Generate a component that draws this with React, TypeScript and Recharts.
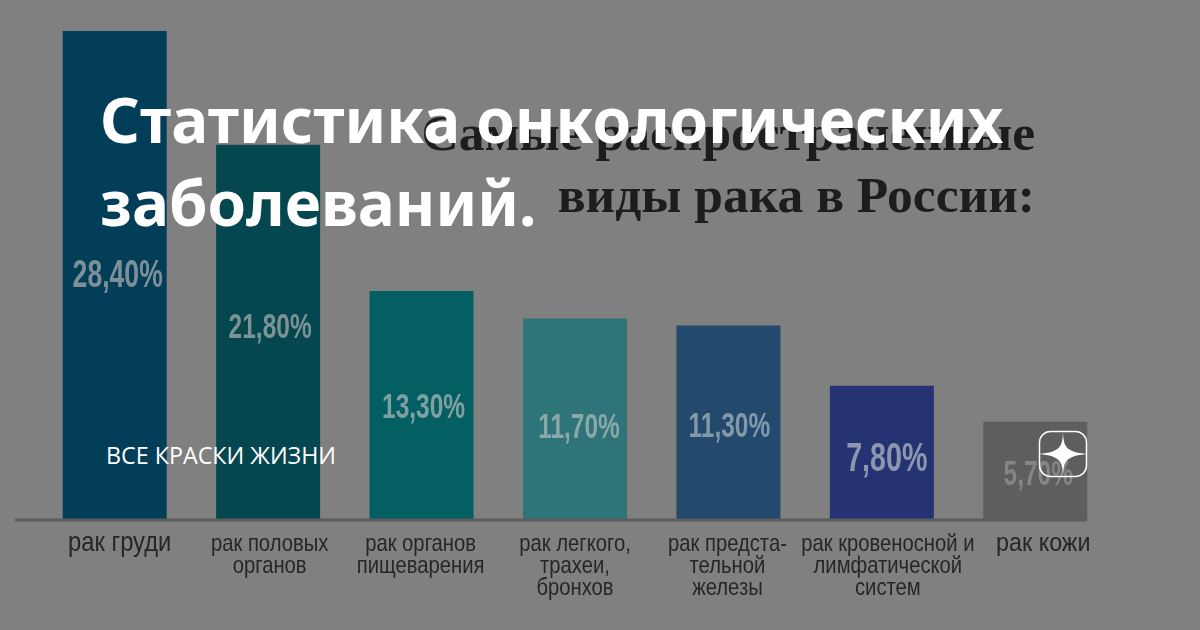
import { Bar, BarChart, Cell, LabelList, XAxis, YAxis } from "recharts";

const CATEGORIES = [
  "рак груди",
  "рак половых органов",
  "рак органов пищеварения",
  "рак легкого, трахеи, бронхов",
  "рак предста-тельной железы",
  "рак кровеносной и лимфатической систем",
  "рак кожи",
];
const VALUES = [28.4, 21.8, 13.3, 11.7, 11.3, 7.8, 5.7];
const VALUE_LABELS = ["28,40%", "21,80%", "13,30%", "11,70%", "11,30%", "7,80%", "5,70%"];
const TICK_LINES = [
  ["рак груди"],
  ["рак половых", "органов"],
  ["рак органов", "пищеварения"],
  ["рак легкого,", "трахеи,", "бронхов"],
  ["рак предста-", "тельной", "железы"],
  ["рак кровеносной и", "лимфатической", "систем"],
  ["рак кожи"],
];
const BAR_COLORS = ["#023e58", "#04474f", "#045f63", "#2f7478", "#234a6c", "#253373", "#5e5e5e"];
const LABEL_COLORS = ["#7d8f98", "#7d9296", "#7fa0a2", "#8aa8aa", "#8199aa", "#8d96ad", "#858585"];
const LABEL_SIZES = [38, 35, 35, 35, 35, 41, 35];
const LABEL_NUDGE_X = [3, 2, 2, 4, 1, 5, 3];
const LABEL_NUDGE_Y = [-2, -7, 0, 6, 2, 3, 1];
const TICK_SIZES = [27, 23, 23, 23, 23, 23, 26.5];
const TICK_NUDGE_X = [5, 1.5, -1, 0, -1, 6, 8];

const data = CATEGORIES.map((name, i) => ({ name, value: VALUES[i] }));

function CategoryTick({ x, y, index }: any) {
  const lines = TICK_LINES[index] ?? [];
  return (
    <text
      transform={`translate(${x + TICK_NUDGE_X[index]},${y + 23}) scale(0.88,1)`}
      textAnchor="middle"
      fill="#262626"
      fontFamily="'Liberation Sans'"
      fontSize={TICK_SIZES[index]}
      style={{ filter: "blur(0.5px)" }}
    >
      {lines.map((line: string, i: number) => (
        <tspan key={i} x={0} dy={i === 0 ? 0 : 22}>
          {line}
        </tspan>
      ))}
    </text>
  );
}

function ValueLabel({ x, y, width, height, index }: any) {
  const cx = x + width / 2 + LABEL_NUDGE_X[index];
  const cy = y + height / 2 + LABEL_NUDGE_Y[index];
  return (
    <text
      transform={`translate(${cx},${cy}) scale(0.7,1)`}
      dy="0.36em"
      textAnchor="middle"
      fill={LABEL_COLORS[index]}
      fontFamily="'Liberation Sans'"
      fontWeight={700}
      fontSize={LABEL_SIZES[index]}
      style={{ filter: "blur(0.6px)" }}
    >
      {VALUE_LABELS[index]}
    </text>
  );
}

export default function App() {
  return (
    <div style={{ position: "absolute", left: 0, top: 0, width: 1200, height: 630, background: "#808080", overflow: "hidden" }}>
      <div
        style={{
          position: "absolute",
          left: 420,
          top: 102,
          width: 615,
          textAlign: "right",
          fontFamily: "'Liberation Serif'",
          fontWeight: 700,
          fontSize: 51.5,
          lineHeight: "62px",
          color: "#1d1d1d",
          whiteSpace: "nowrap",
          filter: "blur(0.6px)",
        }}
      >
        <div>Самые распространенные</div>
        <div>виды рака в России:</div>
      </div>
      <BarChart
        width={1200}
        height={630}
        data={data}
        margin={{ top: 31, right: 113, bottom: 0, left: 15 }}
        barCategoryGap={24.7}
        style={{ position: "absolute", left: 0, top: 0 }}
      >
        <XAxis
          dataKey="name"
          height={110}
          interval={0}
          padding={{ left: 23, right: -25 }}
          tickLine={false}
          axisLine={{ stroke: "#5c5c5c", strokeWidth: 3 }}
          tick={<CategoryTick />}
        />
        <YAxis hide domain={[0, 28.4]} />
        <Bar dataKey="value" isAnimationActive={false}>
          {BAR_COLORS.map((c) => (
            <Cell key={c} fill={c} />
          ))}
          <LabelList dataKey="value" content={<ValueLabel />} />
        </Bar>
      </BarChart>
      <div
        style={{
          position: "absolute",
          left: 100,
          top: 78,
          fontFamily: "'Noto Sans'",
          fontWeight: 700,
          fontSize: 62,
          lineHeight: "83px",
          color: "#fff",
          whiteSpace: "nowrap",
        }}
      >
        <div>Статистика онкологических</div>
        <div>заболеваний.</div>
      </div>
      <div
        style={{
          position: "absolute",
          left: 106,
          top: 440,
          fontFamily: "'Open Sans'",
          fontSize: 23.3,
          lineHeight: "30px",
          color: "#fff",
          whiteSpace: "nowrap",
        }}
      >
        ВСЕ КРАСКИ ЖИЗНИ
      </div>
      <svg width={50} height={48} style={{ position: "absolute", left: 1038, top: 430 }}>
        <rect x={1.5} y={1.5} width={47} height={45} rx={11} fill="none" stroke="#fff" strokeWidth={1.5} />
        <path
          d="M25 2 C25.6 16 27 22 49 24 C27 26 25.6 32 25 46 C24.4 32 23 26 1 24 C23 22 24.4 16 25 2 Z"
          fill="#fff"
        />
      </svg>
    </div>
  );
}
